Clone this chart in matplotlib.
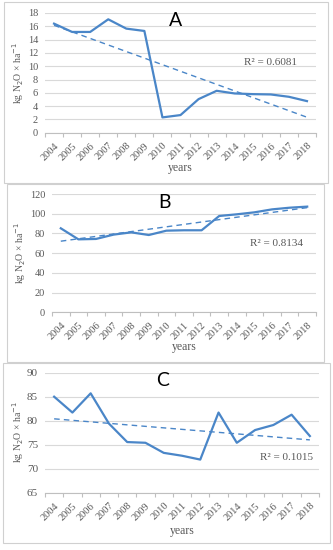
import matplotlib
matplotlib.use("Agg")
import matplotlib.pyplot as plt
from matplotlib.patches import Rectangle
import numpy as np

years = [str(y) for y in range(2004, 2019)]

# kg N2O per ha
values_a = [16.4, 15.15, 15.15, 17.05, 15.65, 15.3, 2.3, 2.65, 5.05, 6.3, 5.9, 5.8, 5.75, 5.4, 4.75]
values_b = [85.2, 74.0, 74.4, 78.8, 81.1, 78.4, 82.8, 83.2, 83.2, 97.7, 99.4, 101.4, 104.4, 106.1, 107.2]
values_c = [85.0, 81.7, 85.7, 79.4, 75.55, 75.4, 73.3, 72.7, 71.9, 81.7, 75.4, 78.05, 79.1, 81.25, 76.8]

r2_labels = ["R\u00b2 = 0.6081", "R\u00b2 = 0.8134", "R\u00b2 = 0.1015"]
panel_letters = ["A", "B", "C"]

W, H = 333, 550
BLUE = "#4a86c8"
GRID = "#d9d9d9"
TXT = "#595959"
SERIF = "Liberation Serif"

fig = plt.figure(figsize=(W / 100, H / 100), dpi=100)
fig.patch.set_facecolor("white")


def px_rect(left, top, right, bottom):
    return [left / W, 1 - bottom / H, (right - left) / W, (bottom - top) / H]


panels = [
    # box, plot area, y range/step, letter pos, r2 pos, years label y, ylabel center
    dict(box=(4, 2, 328, 183), area=(45, 13, 316, 132.7), ylim=(0, 18), step=2, tfs=7.5,
         letter=(176, 20), r2=(271, 62), xlab=168, ylab=(18.5, 73), vals=values_a),
    dict(box=(7, 184, 324, 362), area=(52, 194, 316, 312.3), ylim=(0, 120), step=20, tfs=7.5,
         letter=(165, 203), r2=(276, 243), xlab=347, ylab=(20, 253), vals=values_b),
    dict(box=(3, 363, 330, 543), area=(45, 372.7, 319, 492.7), ylim=(65, 90), step=5, tfs=8,
         letter=(163, 381), r2=(286, 458), xlab=531, ylab=(18.5, 432), vals=values_c),
]

x = np.arange(len(years))

for i, p in enumerate(panels):
    bl, bt, br, bb = p["box"]
    fig.patches.append(Rectangle((bl / W, 1 - bb / H), (br - bl) / W, (bb - bt) / H,
                                 transform=fig.transFigure, fill=False,
                                 edgecolor="#d0d0d0", linewidth=0.8))

    ax = fig.add_axes(px_rect(*p["area"]))
    vals = np.array(p["vals"])
    ax.plot(x, vals, color=BLUE, linewidth=1.6, solid_joinstyle="round", zorder=3)

    # linear trend line
    k, b = np.polyfit(x, vals, 1)
    ax.plot(x, k * x + b, color=BLUE, linewidth=1.0, linestyle=(0, (4, 3)), zorder=3)

    lo, hi = p["ylim"]
    ax.set_ylim(lo, hi)
    ax.set_xlim(-0.5, len(years) - 0.5)
    ax.set_yticks(np.arange(lo, hi + 0.1, p["step"]))
    ax.yaxis.grid(True, color=GRID, linewidth=0.8)
    ax.set_axisbelow(True)
    for s in ["top", "right", "left"]:
        ax.spines[s].set_visible(False)
    ax.spines["bottom"].set_color("#bfbfbf")
    ax.spines["bottom"].set_linewidth(0.8)

    ax.set_xticks(x)
    ax.set_xticklabels(years, rotation=45, ha="right", rotation_mode="anchor",
                       fontsize=7.5, color=TXT, family=SERIF)
    ax.set_xticks(np.arange(-0.5, len(years), 1), minor=True)
    ax.tick_params(axis="x", which="major", length=0, pad=6)
    ax.tick_params(axis="x", which="minor", length=3, color="#bfbfbf", width=0.8)
    ax.tick_params(axis="y", length=0, pad=5, labelsize=p["tfs"], labelcolor=TXT)
    for lab in ax.get_yticklabels():
        lab.set_family(SERIF)

    yx, yy = p["ylab"]
    fig.text(yx / W, 1 - yy / H, "kg N$_2$O \u00d7 ha$^{-1}$",
             family=SERIF, fontsize=7, color=TXT, rotation=90, ha="center", va="center")

    lx, ly = p["letter"]
    fig.text(lx / W, 1 - ly / H, panel_letters[i], fontsize=14, color="black",
             family="Lato", ha="center", va="center")
    rx, ry = p["r2"]
    fig.text(rx / W, 1 - ry / H, r2_labels[i], fontsize=8, color=TXT,
             family=SERIF, ha="center", va="center")
    fig.text((p["area"][0] + p["area"][2]) / 2 / W, 1 - p["xlab"] / H, "years",
             fontsize=8.5, color=TXT, family=SERIF, ha="center", va="center")

fig.savefig("out.png", dpi=100, facecolor="white")
